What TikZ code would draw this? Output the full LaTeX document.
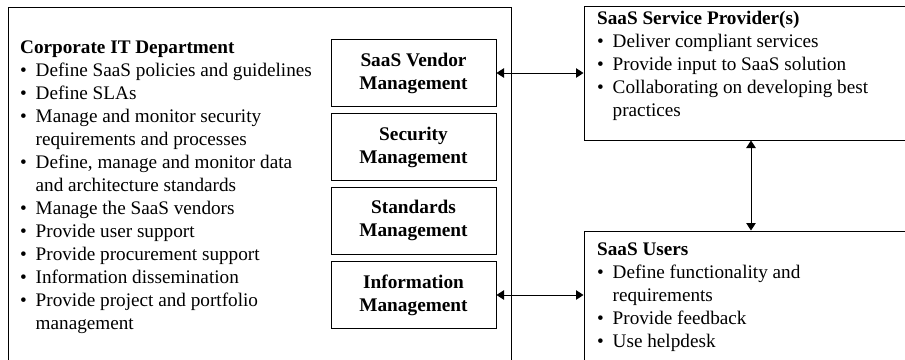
\documentclass[tikz,border=0pt]{standalone}
\usepackage{fontspec}
\setmainfont{Liberation Serif}
\usetikzlibrary{arrows.meta}
\newcommand{\bitem}[1]{\strut\makebox[15.5pt][l]{\textbullet}#1}
\newcommand{\bcont}[1]{\strut\hspace*{15.5pt}#1}
\begin{document}
\begin{tikzpicture}[x=1pt,y=-1pt,
  boxline/.style={draw=black, line width=1pt, rectangle, inner sep=0pt},
  mgmt/.style={boxline, minimum width=165pt, minimum height=67pt, align=center,
    font=\fontsize{19.3}{23}\selectfont\bfseries},
  listtext/.style={anchor=north west, inner sep=0pt, align=left,
    font=\fontsize{19.2}{23}\selectfont},
  arr/.style={line width=1pt, {Triangle[length=7.5pt,width=9.5pt]}-{Triangle[length=7.5pt,width=9.5pt]}}]
\clip (0,0) rectangle (905,359);
\fill[white] (0,0) rectangle (905,359);
% boxes
\node[boxline, minimum width=503pt, minimum height=363pt] (it) at (259.5,188.5) {};
\node[mgmt] (vendor) at (413.5,73) {SaaS Vendor\\Management};
\node[mgmt] (security) at (413.5,147) {Security\\Management};
\node[mgmt] (standards) at (413.5,220.5) {Standards\\Management};
\node[mgmt] (info) at (413.5,295) {Information\\Management};
\node[boxline, minimum width=334pt, minimum height=134pt] (prov) at (751,73) {};
\node[boxline, minimum width=334pt, minimum height=149pt] (users) at (751,305.5) {};
% texts
\node[listtext] (ittext) at (20,36.9) {\strut\textbf{Corporate IT Department}\\
\bitem{Define SaaS policies and guidelines}\\
\bitem{Define SLAs}\\
\bitem{Manage and monitor security}\\
\bcont{requirements and processes}\\
\bitem{Define, manage and monitor data}\\
\bcont{and architecture standards}\\
\bitem{Manage the SaaS vendors}\\
\bitem{Provide user support}\\
\bitem{Provide procurement support}\\
\bitem{Information dissemination}\\
\bitem{Provide project and portfolio}\\
\bcont{management}};
\node[listtext] (provtext) at (597,7.9) {\strut\textbf{SaaS Service Provider(s)}\\
\bitem{Deliver compliant services}\\
\bitem{Provide input to SaaS solution}\\
\bitem{Collaborating on developing best}\\
\bcont{practices}};
\node[listtext] (usertext) at (597,238.9) {\strut\textbf{SaaS Users}\\
\bitem{Define functionality and}\\
\bcont{requirements}\\
\bitem{Provide feedback}\\
\bitem{Use helpdesk}};
% connectors
\draw[arr] (vendor.east) -- (vendor.east -| prov.west);
\draw[arr] (info.east) -- (info.east -| users.west);
\draw[arr] (prov.south) -- (users.north);
\end{tikzpicture}
\end{document}
